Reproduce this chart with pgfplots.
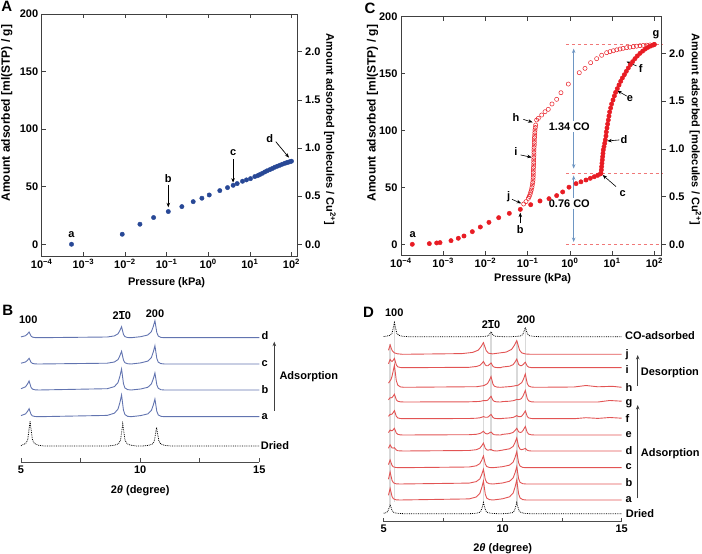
\documentclass[border=0pt]{standalone}
\usepackage{fontspec}
\setmainfont{Liberation Sans}
\usepackage{pgfplots}
\pgfplotsset{compat=1.18}
\usetikzlibrary{arrows.meta}
\definecolor{adsred}{RGB}{232,28,36}
\definecolor{ptblue}{RGB}{40,72,150}
\definecolor{xrdblue}{RGB}{98,116,176}
\definecolor{xrdred}{RGB}{226,84,84}
\definecolor{dashred}{RGB}{240,120,120}
\definecolor{coarrow}{RGB}{110,150,195}
\pgfplotsset{
  isocommon/.style={scale only axis, anchor=south west,
    xtick={1e-4,1e-3,1e-2,1e-1,1,10,100},
    xticklabels={10\textsuperscript{−4},10\textsuperscript{−3},10\textsuperscript{−2},10\textsuperscript{−1},10\textsuperscript{0},10\textsuperscript{1},10\textsuperscript{2}},
    xminorticks=false, ytick={0,50,100,150,200}, yticklabels={0,50,100,150,200},
    tick align=inside, xtick pos=both, ytick pos=left, major tick length=4bp,
    axis line style={black!75,line width=0.6bp}, tick style={black!75,line width=0.6bp},
    xlabel={Pressure (kPa)}, ylabel={\fontsize{12bp}{14bp}\selectfont Amount adsorbed [ml(STP) / g]}, clip=false},
  isoright/.style={scale only axis, anchor=south west, axis x line=none, axis y line*=right,
    xmin=1, xmax=10, ytick={0,0.5,1,1.5,2}, yticklabels={0.0,0.5,1.0,1.5,2.0},
    tick align=outside, major tick length=4bp,
    axis line style={black!75,line width=0.6bp}, tick style={black!75,line width=0.6bp},
    ylabel={Amount adsorbed [molecules / Cu\textsuperscript{2+}]}},
  xrdcommon/.style={scale only axis, anchor=south west, xmin=5, xmax=15, ymin=0,
    axis x line*=bottom, hide y axis, xtick={5,10,15}, xticklabels={5,10,15},
    minor xtick={7.5,12.5}, tick align=inside, major tick length=4bp, minor tick length=4bp,
    axis line style={black!70,line width=0.6bp}, tick style={black!70,line width=0.6bp},
    xlabel={2\textit{θ} (degree)}, clip=false},
  bcurve/.style={xrdblue, line width=0.9bp},
  rcurve/.style={xrdred, line width=0.9bp},
  dcurve/.style={black, densely dotted, line width=0.8bp},
}
\begin{document}
\begin{tikzpicture}[font=\fontsize{11bp}{13bp}\selectfont\bfseries, >={Stealth[length=4.5bp,width=3.5bp]}]
\useasboundingbox (0,0) rectangle (702bp,554bp);

% ---------------- A ----------------
\begin{axis}[xmode=log, isocommon, at={(41.7bp,298bp)}, width=256bp, height=242bp,
  xmin=1e-4, xmax=141.25, ymin=-10.2, ymax=200,
  every axis y label/.style={at={(axis description cs:-0.136,0.59)}, rotate=90, anchor=center},
  every axis x label/.style={at={(axis description cs:0.488,-0.11)}, anchor=center}]
\addplot[only marks, mark=*, mark size=2.2bp, color=ptblue] coordinates {
 (5.2e-4,0) (8.6e-3,8.7) (0.0229,17.4) (0.0488,23.2) (0.110,28.4) (0.233,32.7)
 (0.436,37.0) (0.705,40.0) (1.06,42.8) (1.90,46.6) (2.91,49.2) (3.98,51.2)
 (4.97,52.7) (6.67,54.7) (8.3,55.9) (10.4,57.0) (13.2,58.8) (15.5,59.6)
 (17.4,60.5) (20.0,61.6) (22.9,62.8) (26.0,63.8) (30.2,64.8) (34.7,65.8)
 (39.8,66.9) (45.7,67.8) (52.5,68.6) (60.0,69.5) (69.2,70.3) (76.0,70.8)
 (83.2,71.2) (91.0,71.7) (100,72.1)};
\node at (axis cs:5.2e-4,8.1) {a};
\node at (axis cs:0.11,57.3) {b};
\draw[->, line width=0.7bp] (axis cs:0.11,51.5) -- (axis cs:0.11,32.1);
\node at (axis cs:3.96,79.5) {c};
\draw[->, line width=0.7bp] (axis cs:3.96,73.8) -- (axis cs:3.96,53.5);
\node at (axis cs:30.1,92) {d};
\draw[->, line width=0.7bp] (axis cs:42,89.1) -- (axis cs:87.5,75.2);
\end{axis}
\begin{axis}[isoright, at={(41.7bp,298bp)}, width=256bp, height=242bp,
  ymin=-0.122, ymax=2.392,
  every axis y label/.style={at={(axis description cs:1.126,0.522)}, rotate=-90, anchor=center}]
\end{axis}

% ---------------- C ----------------
\begin{axis}[xmode=log, isocommon, at={(401bp,299bp)}, width=260.7bp, height=238.3bp,
  xmin=1e-4, xmax=149.6, ymin=-9.4, ymax=200,
  every axis y label/.style={at={(axis description cs:-0.109,0.595)}, rotate=90, anchor=center},
  every axis x label/.style={at={(axis description cs:0.505,-0.098)}, anchor=center}]
\draw[dashred, dashed, line width=0.7bp] (axis cs:0.81,175.6) -- (axis cs:149.6,175.6);
\draw[dashred, dashed, line width=0.7bp] (axis cs:0.81,62.3) -- (axis cs:149.6,62.3);
\draw[dashred, dashed, line width=0.7bp] (axis cs:0.81,0) -- (axis cs:149.6,0);
\draw[coarrow, <->, line width=0.8bp] (axis cs:1.23,172) -- (axis cs:1.23,66.5);
\draw[coarrow, <->, line width=0.8bp] (axis cs:1.23,60.5) -- (axis cs:1.23,2);
\node[fill=white, inner sep=1.5bp] at (axis cs:0.97,103.4) {1.34 CO};
\node[fill=white, inner sep=1.5bp] at (axis cs:0.97,36) {0.76 CO};
\addplot[only marks, mark=o, mark size=2.1bp, mark options={draw=adsred, fill=white, line width=0.5bp}] coordinates {
 (100,175.6) (79.4,175.2) (65.9,175.0) (55.0,174.8) (45.8,174.5) (38.0,174.1)
 (31.8,173.6) (26.3,173.2) (22.1,172.8) (18.2,172.2) (15.4,171.6) (12.9,170.9)
 (10.7,170.1) (8.9,169.3) (7.43,168.4) (5.66,166.1) (4.31,163.1) (3.10,159.6)
 (2.28,154.6) (1.67,150.8) (0.918,140.8) (0.615,133.2) (0.486,127.4) (0.377,123.3)
 (0.308,118.6) (0.258,116.5) (0.215,113.6) (0.179,110.7) (0.163,109.2) (0.155,104.8)
 (0.152,102.6) (0.149,100.4) (0.148,98.2) (0.147,96.0) (0.145,93.8) (0.144,91.6)
 (0.144,89.5) (0.144,87.3) (0.142,85.1) (0.141,82.9) (0.141,80.7) (0.141,78.5)
 (0.140,76.3) (0.139,74.1) (0.139,71.9) (0.139,69.7) (0.137,67.5) (0.136,65.3)
 (0.136,63.1) (0.136,60.9) (0.135,58.7) (0.134,56.5) (0.132,54.3) (0.129,52.1)
 (0.126,49.9) (0.122,47.7) (0.118,45.8) (0.114,43.9) (0.109,42.1) (0.104,40.4)
 (0.0912,37.5) (0.0804,35.4)};
\addplot[only marks, mark=*, mark size=2.2bp, color=adsred] coordinates {
 (1.85e-4,0) (4.69e-4,0.6) (7.0e-4,1.2) (8.4e-4,1.5) (1.53e-3,3.2) (2.28e-3,5.3)
 (3.10e-3,7.3) (4.89e-3,11.1) (7.57e-3,15.2) (0.0121,19.3) (0.0206,23.4) (0.0368,27.2)
 (0.0670,30.7) (0.118,34.8) (0.196,38.1) (0.320,40.1) (0.486,42.8) (0.675,46.0)
 (0.953,50.2) (1.40,53.3) (1.83,54.9) (2.41,56.5) (3.05,58.0) (3.79,59.4)
 (4.55,60.6) (5.26,61.8) (5.46,62.4) (5.56,65.3) (5.66,68.2) (5.75,71.2)
 (5.86,74.1) (5.97,77.0) (6.08,79.9) (6.19,82.9) (6.43,85.8) (6.67,88.7)
 (6.90,91.7) (7.16,95.2) (7.29,98.7) (7.57,102.2) (7.85,105.7) (8.13,109.2)
 (8.43,112.7) (8.75,116.3) (9.25,119.8) (9.75,123.3) (10.5,126.8) (11.3,130.3)
 (12.1,133.5) (13.3,136.8) (14.6,140.0) (16.0,143.2) (17.5,146.1) (19.5,149.0)
 (21.7,152.0) (24.2,154.9) (27.0,157.8) (30.7,160.5) (34.8,163.1) (39.5,165.5)
 (45.8,167.8) (53.0,169.8) (61.2,171.6) (70.8,173.1) (81.8,174.2) (94.6,175.1)
 (100,175.6)};
\node at (axis cs:1.9e-4,8.2) {a};
\node at (axis cs:0.067,12.6) {b};
\draw[->, line width=0.6bp] (axis cs:0.067,18.4) -- (axis cs:0.067,27.8);
\node at (axis cs:0.0355,41.9) {j};
\draw[->, line width=0.6bp] (axis cs:0.0427,39.5) -- (axis cs:0.070,36);
\node at (axis cs:0.053,111.6) {h};
\draw[->, line width=0.6bp] (axis cs:0.0789,109.8) -- (axis cs:0.131,107.2);
\node at (axis cs:0.053,81.4) {i};
\draw[->, line width=0.6bp] (axis cs:0.0682,78.5) -- (axis cs:0.1245,76.4);
\node at (axis cs:17.8,44.8) {c};
\draw[->, line width=0.6bp] (axis cs:12.4,50.7) -- (axis cs:5.97,60.9);
\node at (axis cs:19.1,92.2) {d};
\draw[->, line width=0.6bp] (axis cs:14.8,91.7) -- (axis cs:7.71,90.8);
\node at (axis cs:26.5,128.3) {e};
\draw[->, line width=0.6bp] (axis cs:22.1,130.3) -- (axis cs:13.3,135);
\node at (axis cs:47.4,154.6) {f};
\draw[->, line width=0.6bp] (axis cs:38.1,156.7) -- (axis cs:22.1,160.5);
\node at (axis cs:109.6,183.9) {g};
\end{axis}
\begin{axis}[isoright, at={(401bp,299bp)}, width=260.7bp, height=238.3bp,
  ymin=-0.112, ymax=2.386,
  every axis y label/.style={at={(axis description cs:1.1295,0.528)}, rotate=-90, anchor=center}]
\end{axis}

% ---------------- B ----------------
\begin{axis}[xrdcommon, at={(21bp,91.7bp)}, width=238.3bp, height=150bp, ymax=150,
  every axis x label/.style={at={(axis description cs:0.5,-0.189)}, anchor=center}]
\addplot[dcurve] table[row sep=\\, y expr=\thisrowno{1}+16.3] {5.00 0.3\\ 5.03 0.8\\ 5.20 2.5\\ 5.28 6.3\\ 5.33 15.0\\ 5.38 25.0\\ 5.43 15.0\\ 5.48 6.3\\ 5.56 2.5\\ 5.73 0.8\\ 5.98 0\\ 8.67 0\\ 8.92 0.7\\ 9.09 2.2\\ 9.17 5.5\\ 9.22 13.2\\ 9.27 22.0\\ 9.32 13.2\\ 9.37 5.5\\ 9.45 2.2\\ 9.62 0.7\\ 9.87 0\\ 10.09 0\\ 10.34 0.6\\ 10.51 1.9\\ 10.59 4.7\\ 10.64 11.2\\ 10.69 18.7\\ 10.74 11.2\\ 10.79 4.7\\ 10.87 1.9\\ 11.04 0.6\\ 11.29 0\\ 15.00 0\\};
\addplot[bcurve] table[row sep=\\, y expr=\thisrowno{1}+45.6] {5.00 1.1\\ 5.19 2.8\\ 5.27 5.2\\ 5.34 8.0\\ 5.38 5.2\\ 5.42 2.4\\ 5.48 0.8\\ 5.59 0.2\\ 5.74 0\\ 8.62 1.3\\ 8.92 3.5\\ 9.07 7.6\\ 9.15 14.1\\ 9.22 21.7\\ 9.26 14.1\\ 9.30 6.5\\ 9.36 2.2\\ 9.47 0.4\\ 9.62 0\\ 10.02 1.1\\ 10.32 2.8\\ 10.47 6.2\\ 10.55 11.5\\ 10.62 17.7\\ 10.66 11.5\\ 10.70 5.3\\ 10.76 1.8\\ 10.87 0.4\\ 11.02 0\\ 15.00 0\\};
\addplot[bcurve] table[row sep=\\, y expr=\thisrowno{1}+72.3] {5.00 1.3\\ 5.19 3.2\\ 5.27 5.9\\ 5.34 9.0\\ 5.38 5.9\\ 5.42 2.7\\ 5.48 0.9\\ 5.59 0.2\\ 5.74 0\\ 8.62 1.3\\ 8.92 3.4\\ 9.07 7.4\\ 9.15 13.7\\ 9.22 21.0\\ 9.26 13.7\\ 9.30 6.3\\ 9.36 2.1\\ 9.47 0.4\\ 9.62 0\\ 10.02 1.0\\ 10.32 2.7\\ 10.47 6.0\\ 10.55 11.1\\ 10.62 17.0\\ 10.66 11.1\\ 10.70 5.1\\ 10.76 1.7\\ 10.87 0.3\\ 11.02 0\\ 15.00 0\\};
\addplot[bcurve] table[row sep=\\, y expr=\thisrowno{1}+98.3] {5.00 0.8\\ 5.19 2.0\\ 5.27 3.7\\ 5.34 5.7\\ 5.38 3.7\\ 5.42 1.7\\ 5.48 0.6\\ 5.59 0.1\\ 5.74 0\\ 8.62 0.8\\ 8.92 2.0\\ 9.07 4.4\\ 9.15 8.3\\ 9.22 12.7\\ 9.26 8.3\\ 9.30 3.8\\ 9.36 1.3\\ 9.47 0.3\\ 9.62 0\\ 10.02 1.1\\ 10.32 2.9\\ 10.47 6.4\\ 10.55 11.9\\ 10.62 18.3\\ 10.66 11.9\\ 10.70 5.5\\ 10.76 1.8\\ 10.87 0.4\\ 11.02 0\\ 15.00 0\\};
\addplot[bcurve] table[row sep=\\, y expr=\thisrowno{1}+124.6] {5.00 0.8\\ 5.19 2.0\\ 5.27 3.7\\ 5.34 5.7\\ 5.38 3.7\\ 5.42 1.7\\ 5.48 0.6\\ 5.59 0.1\\ 5.74 0\\ 8.62 0.7\\ 8.92 1.8\\ 9.07 3.9\\ 9.15 7.2\\ 9.22 11.0\\ 9.26 7.2\\ 9.30 3.3\\ 9.36 1.1\\ 9.47 0.2\\ 9.62 0\\ 10.02 1.0\\ 10.32 2.7\\ 10.47 6.0\\ 10.55 11.1\\ 10.62 17.0\\ 10.66 11.1\\ 10.70 5.1\\ 10.76 1.7\\ 10.87 0.3\\ 11.02 0\\ 15.00 0\\};
\end{axis}

% ---------------- D ----------------
\begin{axis}[xrdcommon, at={(383.7bp,32.3bp)}, width=238bp, height=200bp, ymax=200,
  every axis x label/.style={at={(axis description cs:0.5,-0.133)}, anchor=center}]
\draw[gray!30, line width=1.6bp] (axis cs:5.27,17) -- (axis cs:5.27,178);
\draw[gray!30, line width=1.6bp] (axis cs:5.45,199) -- (axis cs:5.45,20);
\draw[gray!30, line width=1.6bp] (axis cs:9.19,19) -- (axis cs:9.19,179);
\draw[gray!30, line width=1.6bp] (axis cs:9.51,190) -- (axis cs:9.51,71);
\draw[gray!30, line width=1.6bp] (axis cs:10.59,19) -- (axis cs:10.59,181);
\draw[gray!30, line width=1.6bp] (axis cs:10.95,194) -- (axis cs:10.95,70);
% Dried
\addplot[dcurve] table[row sep=\\, y expr=\thisrowno{1}+8] {5.00 0.5\\ 5.09 0.9\\ 5.17 2.3\\ 5.22 5.4\\ 5.27 9.0\\ 5.32 5.4\\ 5.37 2.3\\ 5.45 0.9\\ 5.62 0.3\\ 5.87 0\\ 8.59 0\\ 8.84 0.3\\ 9.01 1.1\\ 9.09 2.8\\ 9.14 6.6\\ 9.19 11.0\\ 9.24 6.6\\ 9.29 2.8\\ 9.37 1.1\\ 9.54 0.3\\ 9.79 0\\ 9.99 0\\ 10.24 0.3\\ 10.41 1.1\\ 10.49 2.8\\ 10.54 6.6\\ 10.59 11.0\\ 10.64 6.6\\ 10.69 2.8\\ 10.77 1.1\\ 10.94 0.3\\ 11.19 0\\ 15.00 0\\};
% a
\addplot[rcurve] table[row sep=\\, y expr=\thisrowno{1}+21.7] {5.20 4.7\\ 5.27 11.7\\ 5.31 7.6\\ 5.35 3.5\\ 5.41 1.2\\ 5.52 0.2\\ 5.67 0\\ 8.59 1.1\\ 8.89 3.0\\ 9.04 6.7\\ 9.12 12.4\\ 9.19 19.0\\ 9.23 12.4\\ 9.27 5.7\\ 9.33 1.9\\ 9.44 0.4\\ 9.59 0\\ 9.99 1.2\\ 10.29 3.2\\ 10.44 7.0\\ 10.52 13.0\\ 10.59 20.0\\ 10.63 13.0\\ 10.67 6.0\\ 10.73 2.0\\ 10.84 0.4\\ 10.99 0\\ 15.00 0\\};
% b
\addplot[rcurve] table[row sep=\\, y expr=\thisrowno{1}+37.7] {5.20 4.8\\ 5.27 12.0\\ 5.31 7.8\\ 5.35 3.6\\ 5.41 1.2\\ 5.52 0.2\\ 5.67 0\\ 8.59 0.9\\ 8.89 2.4\\ 9.04 5.1\\ 9.12 9.6\\ 9.19 14.7\\ 9.23 9.6\\ 9.27 4.4\\ 9.33 1.5\\ 9.44 0.3\\ 9.59 0\\ 9.99 1.0\\ 10.29 2.8\\ 10.44 6.1\\ 10.52 11.2\\ 10.59 17.3\\ 10.63 11.2\\ 10.67 5.2\\ 10.73 1.7\\ 10.84 0.3\\ 10.99 0\\ 15.00 0\\};
% c
\addplot[rcurve] table[row sep=\\, y expr=\thisrowno{1}+54] {5.20 3.1\\ 5.27 7.7\\ 5.31 5.0\\ 5.35 2.3\\ 5.41 0.8\\ 5.52 0.2\\ 5.67 0\\ 8.59 0.7\\ 8.89 1.9\\ 9.04 4.1\\ 9.12 7.6\\ 9.19 11.7\\ 9.23 7.6\\ 9.27 3.5\\ 9.33 1.2\\ 9.44 0.2\\ 9.59 0\\ 9.99 1.0\\ 10.29 2.6\\ 10.44 5.6\\ 10.52 10.4\\ 10.59 16.0\\ 10.63 10.4\\ 10.67 4.8\\ 10.73 1.6\\ 10.84 0.3\\ 10.99 0\\ 15.00 0\\};
% d
\addplot[rcurve] table[row sep=\\, y expr=\thisrowno{1}+70.7] {5.20 2.7\\ 5.27 6.1\\ 5.31 4.5\\ 5.35 3.1\\ 5.40 2.9\\ 5.45 3.3\\ 5.49 2.1\\ 5.53 1.0\\ 5.59 0.3\\ 5.70 0.1\\ 5.85 0\\ 8.59 0.5\\ 8.89 1.3\\ 9.04 2.8\\ 9.12 5.2\\ 9.19 7.9\\ 9.23 5.3\\ 9.27 2.6\\ 9.33 1.2\\ 9.38 0.8\\ 9.44 1.2\\ 9.51 1.5\\ 9.55 1.0\\ 9.59 0.5\\ 9.65 0.2\\ 9.76 0\\ 9.99 0.9\\ 10.29 2.2\\ 10.44 4.6\\ 10.52 8.6\\ 10.59 13.1\\ 10.63 8.7\\ 10.67 4.3\\ 10.73 1.9\\ 10.79 1.3\\ 10.86 1.7\\ 10.95 2.6\\ 10.99 1.6\\ 11.03 0.8\\ 11.09 0.3\\ 11.20 0\\ 15.00 0\\};
% e
\addplot[rcurve] table[row sep=\\, y expr=\thisrowno{1}+86.7] {5.20 2.4\\ 5.27 5.0\\ 5.31 4.4\\ 5.35 4.2\\ 5.40 5.3\\ 5.45 6.7\\ 5.49 4.3\\ 5.53 2.0\\ 5.59 0.7\\ 5.70 0.1\\ 5.85 0\\ 8.59 0.3\\ 8.89 0.7\\ 9.04 1.5\\ 9.12 2.5\\ 9.19 3.8\\ 9.23 2.6\\ 9.27 1.6\\ 9.33 1.1\\ 9.38 1.2\\ 9.44 2.1\\ 9.51 3.0\\ 9.55 2.0\\ 9.59 0.9\\ 9.65 0.3\\ 9.76 0.1\\ 9.91 0\\ 9.99 0.6\\ 10.29 1.4\\ 10.44 2.6\\ 10.52 4.5\\ 10.59 6.7\\ 10.63 5.0\\ 10.67 3.2\\ 10.73 2.6\\ 10.79 2.8\\ 10.86 4.8\\ 10.95 8.5\\ 10.99 5.5\\ 11.03 2.6\\ 11.09 0.9\\ 11.20 0.2\\ 11.35 0\\ 15.00 0\\};
% f
\addplot[rcurve] table[row sep=\\, y expr=\thisrowno{1}+103] {5.20 2.3\\ 5.27 4.4\\ 5.31 4.3\\ 5.35 4.6\\ 5.40 6.2\\ 5.45 8.1\\ 5.49 5.2\\ 5.53 2.4\\ 5.59 0.8\\ 5.70 0.2\\ 5.85 0\\ 8.59 0.2\\ 8.89 0.5\\ 9.04 0.9\\ 9.12 1.5\\ 9.19 2.1\\ 9.23 1.8\\ 9.27 1.4\\ 9.33 1.4\\ 9.38 1.6\\ 9.44 2.8\\ 9.51 4.3\\ 9.55 2.8\\ 9.59 1.3\\ 9.65 0.4\\ 9.76 0.1\\ 9.91 0\\ 9.99 0.3\\ 10.29 0.8\\ 10.44 1.3\\ 10.52 2.2\\ 10.59 3.1\\ 10.63 2.5\\ 10.67 2.0\\ 10.73 2.0\\ 10.79 2.4\\ 10.86 4.3\\ 10.95 7.8\\ 10.99 5.1\\ 11.03 2.3\\ 11.09 0.8\\ 11.20 0.2\\ 11.35 0\\ 13.00 0\\ 13.50 1.0\\ 14.00 0.3\\ 14.50 1.2\\ 15.00 0.5\\};
% g
\addplot[rcurve] table[row sep=\\, y expr=\thisrowno{1}+119.7] {5.20 2.2\\ 5.27 4.3\\ 5.31 4.2\\ 5.35 4.5\\ 5.40 6.0\\ 5.45 7.8\\ 5.49 5.0\\ 5.53 2.3\\ 5.59 0.8\\ 5.70 0.2\\ 5.85 0\\ 8.59 0.2\\ 8.89 0.4\\ 9.04 0.6\\ 9.12 1.0\\ 9.19 1.4\\ 9.23 1.3\\ 9.27 1.3\\ 9.33 1.5\\ 9.38 2.0\\ 9.44 3.7\\ 9.51 5.7\\ 9.55 3.7\\ 9.59 1.7\\ 9.65 0.6\\ 9.76 0.1\\ 9.91 0\\ 9.99 0.4\\ 10.29 0.8\\ 10.44 1.3\\ 10.52 1.9\\ 10.59 2.6\\ 10.63 2.5\\ 10.67 2.4\\ 10.73 2.7\\ 10.79 3.6\\ 10.86 6.3\\ 10.95 11.5\\ 10.99 7.5\\ 11.03 3.5\\ 11.09 1.2\\ 11.20 0.2\\ 11.35 0\\ 14.00 0\\ 14.50 1.5\\ 15.00 0.8\\};
% h
\addplot[rcurve] table[row sep=\\, y expr=\thisrowno{1}+134.4] {5.20 4.2\\ 5.27 6.6\\ 5.31 8.1\\ 5.35 11.0\\ 5.40 16.5\\ 5.45 22.0\\ 5.49 14.3\\ 5.53 6.6\\ 5.59 2.2\\ 5.70 0.4\\ 5.85 0\\ 8.91 0.6\\ 9.21 1.7\\ 9.36 3.7\\ 9.44 7.0\\ 9.51 10.7\\ 9.55 7.0\\ 9.59 3.2\\ 9.65 1.1\\ 9.76 0.2\\ 9.91 0\\ 10.35 0.8\\ 10.65 2.1\\ 10.80 4.7\\ 10.88 8.6\\ 10.95 13.3\\ 10.99 8.6\\ 11.03 4.0\\ 11.09 1.3\\ 11.20 0.3\\ 11.35 0\\ 13.00 0.3\\ 13.50 1.8\\ 14.00 0.5\\ 14.60 1.0\\ 15.00 0\\};
% i
\addplot[rcurve] table[row sep=\\, y expr=\thisrowno{1}+154] {5.20 3.9\\ 5.27 8.2\\ 5.31 6.9\\ 5.35 6.2\\ 5.40 7.5\\ 5.45 9.3\\ 5.49 6.1\\ 5.53 2.8\\ 5.59 0.9\\ 5.70 0.2\\ 5.85 0\\ 8.59 0.4\\ 8.89 1.2\\ 9.04 2.3\\ 9.12 4.2\\ 9.19 6.2\\ 9.23 4.5\\ 9.27 2.7\\ 9.33 1.9\\ 9.38 1.9\\ 9.44 3.2\\ 9.51 4.8\\ 9.55 3.1\\ 9.59 1.4\\ 9.65 0.5\\ 9.76 0.1\\ 9.91 0\\ 9.99 0.7\\ 10.29 1.5\\ 10.44 3.1\\ 10.52 5.7\\ 10.59 8.6\\ 10.63 6.0\\ 10.67 3.3\\ 10.73 2.1\\ 10.79 2.0\\ 10.86 3.2\\ 10.95 5.5\\ 10.99 3.6\\ 11.03 1.7\\ 11.09 0.6\\ 11.20 0.1\\ 11.35 0\\ 15.00 0\\};
% j
\addplot[rcurve] table[row sep=\\, y expr=\thisrowno{1}+167.4] {5.20 4.0\\ 5.27 9.3\\ 5.31 6.5\\ 5.36 3.5\\ 5.44 1.5\\ 5.58 0.5\\ 5.80 0\\ 8.29 0.7\\ 8.74 1.9\\ 8.97 4.1\\ 9.09 7.6\\ 9.19 11.7\\ 9.25 7.6\\ 9.31 3.5\\ 9.40 1.2\\ 9.57 0.4\\ 9.69 0.8\\ 10.14 2.2\\ 10.37 4.8\\ 10.49 8.9\\ 10.59 13.7\\ 10.65 8.9\\ 10.71 4.1\\ 10.80 1.4\\ 10.97 0.3\\ 11.20 0\\ 15.00 0\\};
% CO-adsorbed
\addplot[dcurve] table[row sep=\\, y expr=\thisrowno{1}+185] {5.00 0.2\\ 5.10 0.4\\ 5.27 1.4\\ 5.35 3.5\\ 5.40 8.4\\ 5.45 14.0\\ 5.50 8.4\\ 5.55 3.5\\ 5.63 1.4\\ 5.80 0.4\\ 6.05 0\\ 9.01 0\\ 9.16 0.2\\ 9.33 0.5\\ 9.41 1.3\\ 9.46 3.0\\ 9.51 5.0\\ 9.56 3.0\\ 9.61 1.3\\ 9.69 0.5\\ 9.86 0.2\\ 10.11 0\\ 10.35 0\\ 10.60 0.3\\ 10.77 0.9\\ 10.85 2.3\\ 10.90 5.6\\ 10.95 9.3\\ 11.00 5.6\\ 11.05 2.3\\ 11.13 0.9\\ 11.30 0.3\\ 11.55 0\\ 15.00 0\\};
\end{axis}

% ---------------- panel letters and labels ----------------
\begin{scope}[every node/.style={inner sep=0pt}]
\node[font=\fontsize{15bp}{17bp}\selectfont\bfseries] at (6.7bp,547.3bp) {A};
\node[font=\fontsize{15bp}{17bp}\selectfont\bfseries] at (370bp,545.7bp) {C};
\node[font=\fontsize{15bp}{17bp}\selectfont\bfseries] at (7.7bp,244bp) {B};
\node[font=\fontsize{15bp}{17bp}\selectfont\bfseries] at (368.5bp,242bp) {D};
% B
\node at (28.3bp,234bp) {100};
\node at (121.7bp,239bp) {2\ensuremath{\overline{\mbox{1}}}0};
\node at (155bp,240.7bp) {200};
\node[anchor=west] at (261.5bp,218bp) {d};
\node[anchor=west] at (261.5bp,190.7bp) {c};
\node[anchor=west] at (261.5bp,164bp) {b};
\node[anchor=west] at (261.5bp,137.3bp) {a};
\node[anchor=west] at (260.7bp,108bp) {Dried};
\draw[->, black!75, line width=0.7bp] (274.3bp,143bp) -- (274.3bp,212.3bp);
\node[anchor=west] at (279.3bp,177.3bp) {Adsorption};
% D
\node at (394.3bp,241.3bp) {100};
\node at (491bp,230bp) {2\ensuremath{\overline{\mbox{1}}}0};
\node at (526bp,234.7bp) {200};
\node[anchor=west] at (625bp,218bp) {CO-adsorbed};
\node[anchor=west] at (625.5bp,199bp) {j};
\node[anchor=west] at (625.5bp,184bp) {i};
\node[anchor=west] at (625.5bp,166.7bp) {h};
\node[anchor=west] at (625.5bp,150.7bp) {g};
\node[anchor=west] at (625.5bp,135.7bp) {f};
\node[anchor=west] at (625.5bp,119bp) {e};
\node[anchor=west] at (625.5bp,103.3bp) {d};
\node[anchor=west] at (625.5bp,87.3bp) {c};
\node[anchor=west] at (625.5bp,71.3bp) {b};
\node[anchor=west] at (625.5bp,54.7bp) {a};
\node[anchor=west] at (625.7bp,40.7bp) {Dried};
\draw[->, black!75, line width=0.7bp] (637.7bp,168bp) -- (637.7bp,199bp);
\node[anchor=west] at (640.7bp,181.3bp) {Desorption};
\draw[->, black!75, line width=0.7bp] (637.7bp,55.7bp) -- (637.7bp,149bp);
\node[anchor=west] at (640.7bp,100bp) {Adsorption};
\end{scope}
\end{tikzpicture}
\end{document}
